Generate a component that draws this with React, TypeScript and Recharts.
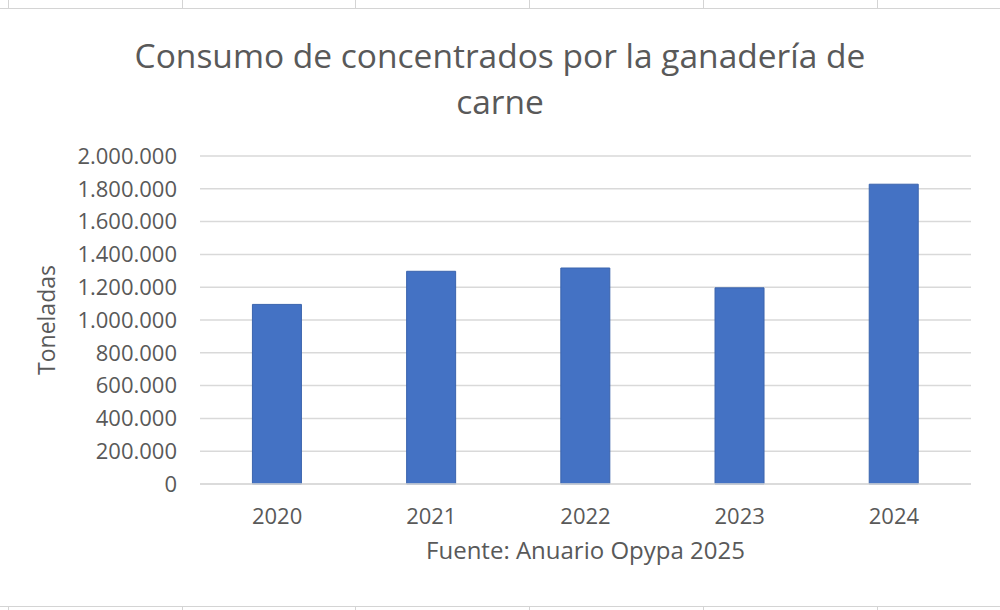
import React from 'react';
import { BarChart, Bar, XAxis, YAxis, CartesianGrid } from 'recharts';

const years = ['2020', '2021', '2022', '2023', '2024'];
const toneladas = [1095000, 1297000, 1317000, 1196000, 1828000];
const yTicks = [0, 200000, 400000, 600000, 800000, 1000000, 1200000, 1400000, 1600000, 1800000, 2000000];

const data = years.map((year, i) => ({ year, toneladas: toneladas[i] }));

const TEXT = '#595959';
const FONT = '"Open Sans", sans-serif';

// miles con punto, como en Excel en español
const formatMiles = (v: number) => String(v).replace(/\B(?=(\d{3})+(?!\d))/g, '.');

const sheetCols = [8, 182, 355, 529, 703, 877];

function SheetBorders() {
  return (
    <>
      <div style={{ position: 'absolute', left: 0, top: 8, width: 1000, height: 1, background: '#d4d4d4' }} />
      <div style={{ position: 'absolute', left: 0, top: 606, width: 1000, height: 1, background: '#d4d4d4' }} />
      {sheetCols.map((x) => (
        <React.Fragment key={x}>
          <div style={{ position: 'absolute', left: x, top: 0, width: 1, height: 8, background: '#d4d4d4' }} />
          <div style={{ position: 'absolute', left: x, top: 607, width: 1, height: 3, background: '#d4d4d4' }} />
        </React.Fragment>
      ))}
    </>
  );
}

export default function App() {
  return (
    <div style={{ position: 'absolute', left: 0, top: 0, width: 1000, height: 610, background: '#fff', fontFamily: FONT }}>
      <SheetBorders />
      <div
        style={{
          position: 'absolute',
          left: 0,
          top: 32,
          width: 1000,
          textAlign: 'center',
          color: TEXT,
          fontSize: 33.5,
          lineHeight: '46px',
        }}
      >
        Consumo de concentrados por la ganadería de
        <br />
        carne
      </div>
      <div style={{ position: 'absolute', left: 0, top: 0 }}>
        <BarChart
          width={1000}
          height={610}
          data={data}
          margin={{ top: 156, right: 29, bottom: 36, left: 0 }}
          barCategoryGap="34%"
        >
          <CartesianGrid vertical={false} stroke="#d9d9d9" strokeWidth={1.5} />
          <XAxis
            dataKey="year"
            height={90}
            axisLine={{ stroke: '#d9d9d9', strokeWidth: 1.5 }}
            tickLine={false}
            tickSize={0}
            tickMargin={24}
            tick={{ fill: TEXT, fontSize: 22, fontFamily: FONT }}
            label={{
              value: 'Fuente: Anuario Opypa 2025',
              position: 'insideBottom',
              offset: 15,
              fill: TEXT,
              fontSize: 24,
              fontFamily: FONT,
            }}
          />
          <YAxis
            width={200}
            domain={[0, 2000000]}
            ticks={yTicks}
            interval={0}
            axisLine={false}
            tickLine={false}
            tickSize={0}
            tickMargin={23}
            tickFormatter={formatMiles}
            tick={{ fill: TEXT, fontSize: 22, fontFamily: FONT }}
            label={{
              value: 'Toneladas',
              angle: -90,
              position: 'insideLeft',
              offset: 47,
              fill: TEXT,
              fontSize: 23,
              fontFamily: FONT,
              style: { textAnchor: 'middle' },
            }}
          />
          <Bar dataKey="toneladas" fill="#4472c4" stroke="#3b64ad" strokeWidth={1} isAnimationActive={false} />
        </BarChart>
      </div>
    </div>
  );
}
